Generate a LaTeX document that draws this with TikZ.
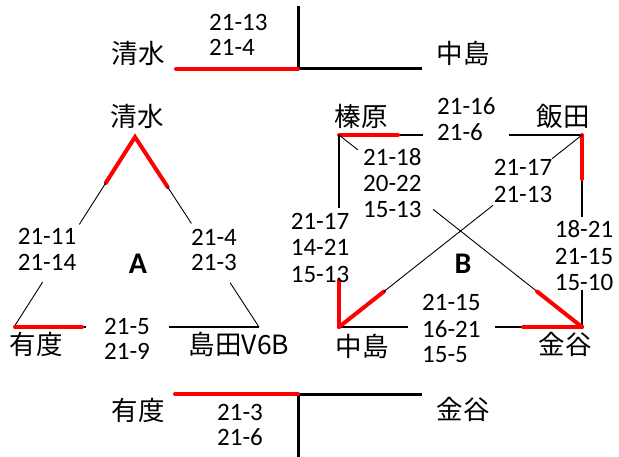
\documentclass[tikz,border=0pt]{standalone}
\usepackage{fontspec}
\newfontfamily\numfont{Carlito}
\newfontfamily\cjkfont{Noto Sans CJK JP}
\usetikzlibrary{calc}
\tikzset{
  num/.style={font=\numfont\fontsize{25}{26}\selectfont, inner sep=0pt, text height=15.8pt, text depth=0pt},
  cjk/.style={font=\cjkfont\fontsize{26.5}{28}\selectfont, inner sep=0pt, text height=20pt, text depth=0pt},
  big/.style={font=\numfont\bfseries\fontsize{30}{32}\selectfont, inner sep=0pt, text height=19.3pt, text depth=0pt},
  redline/.style={draw=red, line width=4pt, line cap=round},
  thickline/.style={draw=black, line width=3pt},
  midline/.style={draw=black, line width=1.6pt},
  thinline/.style={draw=black, line width=0.9pt},
}
\begin{document}
\begin{tikzpicture}[x=1pt,y=-1pt]
\useasboundingbox (0,0) rectangle (619,457);
% ---------- top bracket ----------
\coordinate (t1) at (176,69);
\coordinate (tc) at (298,69);
\coordinate (t2) at (422,69);
\coordinate (tv) at (298,6);
\draw[thickline] (tv) -- (tc) -- (t2);
\draw[redline] (t1) -- (tc);
\node[cjk] (tShimizu) at (138,54) {清水};
\node[cjk] (tNakajima) at (463,54) {中島};
\node[num, anchor=west] (tl1) at (209,23) {21-13};
\node[num, anchor=west] (tl2) at (209,48) {21-4};
% ---------- bottom bracket ----------
\coordinate (b1) at (175,394);
\coordinate (bc) at (298,394);
\coordinate (b2) at (422,394);
\coordinate (bv) at (298,460);
\draw[thickline] (bv) -- (bc) -- (b2);
\draw[redline] (b1) -- (bc);
\node[cjk] (bUdo) at (138,410) {有度};
\node[cjk] (bKanaya) at (463,409) {金谷};
\node[num, anchor=west] (bl1) at (217,413) {21-3};
\node[num, anchor=west] (bl2) at (217,438) {21-6};
% ---------- triangle A ----------
\coordinate (ta) at (135,137);
\coordinate (tbl) at (14,327);
\coordinate (tbr) at (259,327);
\draw[redline] ($(ta)!0.242!(tbl)$) -- (ta) -- ($(ta)!0.263!(tbr)$);
\draw[thinline] ($(ta)!0.242!(tbl)$) -- ($(ta)!0.46!(tbl)$);
\draw[thinline] ($(ta)!0.763!(tbl)$) -- (tbl);
\draw[thinline] ($(ta)!0.263!(tbr)$) -- ($(ta)!0.455!(tbr)$);
\draw[thinline] ($(ta)!0.768!(tbr)$) -- (tbr);
\coordinate (tm1) at (86,327);
\coordinate (tm2) at (169,327);
\draw[midline] (tbl) -- (tm1);
\draw[midline] (tm2) -- (tbr);
\draw[redline] ($(tbl)+(1,0)$) -- (82,327);
\node[cjk] (aShimizu) at (137,117) {清水};
\node[cjk] (aUdo) at (36,345) {有度};
\node[cjk] (aShimada) at (239,345) {島田V6B};
\node[num] (al1) at (47,237) {21-11};
\node[num] (al2) at (47,263) {21-14};
\node[num, anchor=west] (ar1) at (191,238) {21-4};
\node[num, anchor=west] (ar2) at (191,263) {21-3};
\node[num, anchor=west] (ab1) at (104,327) {21-5};
\node[num, anchor=west] (ab2) at (104,352) {21-9};
\node[big] (A) at (138,264) {A};
% ---------- square B ----------
\coordinate (sTL) at (339,135);
\coordinate (sTR) at (582,135);
\coordinate (sBL) at (339,327);
\coordinate (sBR) at (582,327);
% top
\draw[midline] (sTL) -- (423,135);
\draw[midline] (509,135) -- (sTR);
\draw[redline] (sTL) -- (398,135);
% right
\draw[midline] (sTR) -- (582,217);
\draw[midline] (582,290) -- (sBR);
\draw[redline] (sTR) -- (582,179);
% left
\draw[midline] (sTL) -- (339,208);
\draw[redline] (339,280) -- (sBL);
% bottom
\draw[midline] (sBL) -- (408,327);
\draw[midline] (495,327) -- (sBR);
\draw[redline] (523,327) -- (sBR);
% diagonal TL-BR
\draw[thinline] (sTL) -- ($(sTL)!0.078!(sBR)$);
\draw[thinline] ($(sTL)!0.387!(sBR)$) -- ($(sTL)!0.815!(sBR)$);
\draw[redline] ($(sTL)!0.815!(sBR)$) -- (sBR);
% diagonal BL-TR
\draw[redline] (sBL) -- ($(sBL)!0.185!(sTR)$);
\draw[thinline] ($(sBL)!0.185!(sTR)$) -- ($(sBL)!0.634!(sTR)$);
\draw[thinline] ($(sBL)!0.877!(sTR)$) -- (sTR);
\node[cjk] (sHaibara) at (361,117) {榛原};
\node[cjk] (sIida) at (563,117) {飯田};
\node[cjk] (sNakajima) at (362,346) {中島};
\node[cjk] (sKanaya) at (565,345) {金谷};
\node[num, anchor=west] (st1) at (437,107) {21-16};
\node[num, anchor=west] (st2) at (437,133) {21-6};
\node[num, anchor=west] (sd1) at (363,158) {21-18};
\node[num, anchor=west] (sd2) at (363,184) {20-22};
\node[num, anchor=west] (sd3) at (363,210) {15-13};
\node[num] (se1) at (523,168) {21-17};
\node[num] (se2) at (523,195) {21-13};
\node[num] (sl1) at (320,222) {21-17};
\node[num] (sl2) at (320,248) {14-21};
\node[num] (sl3) at (320,275) {15-13};
\node[num] (sr1) at (584,230) {18-21};
\node[num] (sr2) at (584,257) {21-15};
\node[num] (sr3) at (584,283) {15-10};
\node[num, anchor=west] (sb1) at (422,303) {21-15};
\node[num, anchor=west] (sb2) at (422,330) {16-21};
\node[num, anchor=west] (sb3) at (422,355) {15-5};
\node[big] (B) at (463,264) {B};
\end{tikzpicture}
\end{document}
